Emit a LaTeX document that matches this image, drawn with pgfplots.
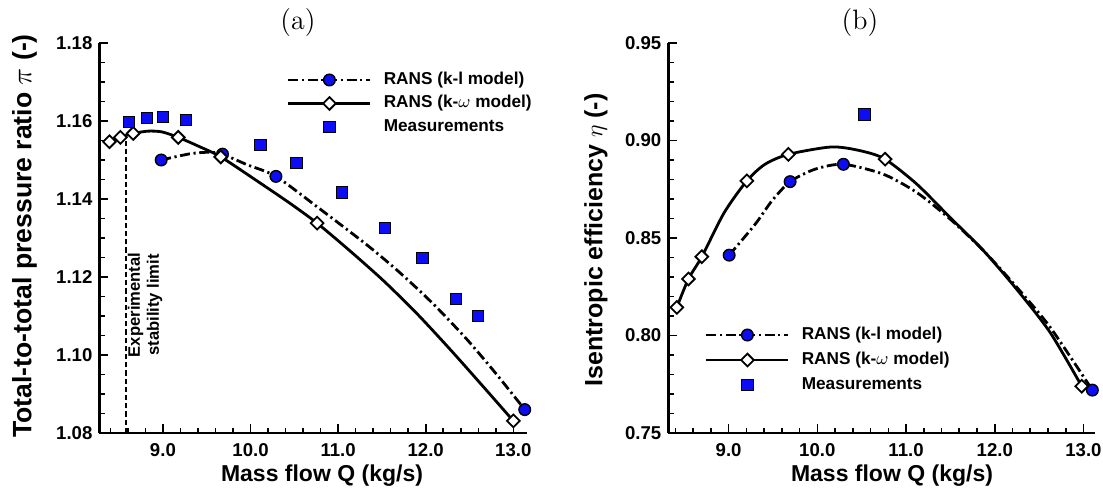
\documentclass[border=0pt]{standalone}
\usepackage{fontspec}
\newfontfamily\arialf{Liberation Sans}
\usepackage{pgfplots}
\pgfplotsset{compat=1.18}
\definecolor{mblue}{RGB}{12,12,245}

\pgfplotsset{
  myaxis/.style={
    scale only axis,
    axis x line=bottom, axis y line=left,
    axis line style={-, line width=1.2pt, black},
    tick align=inside,
    major tick length=4.5pt, minor tick length=2.7pt,
    tick style={line width=0.8pt, black},
    tick label style={font=\arialf\bfseries\fontsize{9.3}{11}\selectfont},
    /pgf/number format/assume math mode=true,
    xticklabel style={yshift=-1.5pt, /pgf/number format/fixed, /pgf/number format/fixed zerofill, /pgf/number format/precision=1},
    yticklabel style={/pgf/number format/fixed, /pgf/number format/fixed zerofill, /pgf/number format/precision=2},
    xtick={9,10,11,12,13},
    minor xtick={8.4,8.6,8.8,9.2,9.4,9.6,9.8,10.2,10.4,10.6,10.8,11.2,11.4,11.6,11.8,12.2,12.4,12.6,12.8},
    clip=false,
    legend image code/.code={\draw[mark repeat=2,mark phase=2,##1] plot coordinates {(0pt,0pt)(20.5pt,0pt)(41pt,0pt)};},
    legend style={draw=none, fill=none, inner sep=0pt, outer sep=0pt, column sep=6pt,
      font=\arialf\bfseries\fontsize{8.6}{10}\selectfont,
      nodes={inner sep=0pt, text height=6pt, text depth=1.5pt}},
    legend cell align=left,
  },
  klline/.style={black, line width=1.4pt, dash pattern=on 5pt off 1.8pt on 1.1pt off 1.8pt, smooth, tension=0.45},
  kwline/.style={black, line width=1.4pt, solid, smooth, tension=0.45},
  circ/.style={mark=*, mark size=2.9pt, mark options={solid, fill=mblue, draw=black, line width=0.7pt}},
  diam/.style={mark=square*, mark size=2.25pt, mark options={solid, fill=white, draw=black, line width=0.9pt, rotate=45}},
  sqm/.style={mark=square*, mark size=2.8pt, mark options={solid, fill=mblue, draw=black, line width=0.45pt}},
}

\begin{document}
\begin{tikzpicture}
\useasboundingbox (0,0) rectangle (551.5pt,246.5pt);

% ---------------- (a) ----------------
\begin{axis}[myaxis, at={(49.75pt,30pt)}, anchor=south west,
  width=213.75pt, height=195pt,
  xmin=8.276, xmax=13.156, ymin=1.08, ymax=1.18,
  ytick={1.08,1.10,1.12,1.14,1.16,1.18},
  minor ytick={1.085,1.09,1.095,1.105,1.11,1.115,1.125,1.13,1.135,1.145,1.15,1.155,1.165,1.17,1.175},
  legend style={at={(rel axis cs:0.4386,0.9244)}, anchor=north west, row sep=4.25pt},
]
% stability limit
\addplot[forget plot, black, line width=1.1pt, dash pattern=on 2.6pt off 1.5pt] coordinates {(8.58,1.08) (8.58,1.1555)};
% k-l curve
\addplot[forget plot, klline] coordinates {
(8.98,1.1500) (9.31,1.1516) (9.54,1.1520) (9.68,1.1515) (9.96,1.1488) (10.29,1.1458)
(10.76,1.1380) (11.33,1.1282) (11.71,1.1210) (12.09,1.1130) (12.47,1.1040) (12.81,1.0950) (13.13,1.0860)};
% k-omega curve
\addplot[forget plot, kwline] coordinates {
(8.39,1.1547) (8.515,1.1558) (8.66,1.1568) (8.83,1.1574) (8.99,1.1572) (9.175,1.1558)
(9.40,1.1536) (9.66,1.1508) (10.07,1.1447) (10.45,1.1389) (10.76,1.1338) (11.14,1.1266)
(11.52,1.1190) (11.90,1.1106) (12.28,1.1014) (12.66,1.0918) (13.00,1.0831)};
% markers
\addplot[forget plot, only marks, circ] coordinates {(8.98,1.1500) (9.68,1.1515) (10.29,1.1458) (13.13,1.0860)};
\addplot[forget plot, only marks, diam] coordinates {(8.39,1.1547) (8.515,1.1558) (8.66,1.1568) (9.175,1.1558) (9.66,1.1508) (10.76,1.1338) (13.00,1.0831)};
\addplot[forget plot, only marks, sqm] coordinates {
(8.614,1.1598) (8.821,1.1607) (9.00,1.1611) (9.267,1.1603) (10.114,1.1539) (10.524,1.1493)
(11.04,1.1417) (11.537,1.1325) (11.963,1.1248) (12.345,1.1143) (12.597,1.1100)};
\addlegendimage{black, line width=1.4pt, dash pattern=on 5pt off 1.8pt on 1.1pt off 1.8pt, circ}
\addlegendentry{RANS (k-l model)}
\addlegendimage{black, line width=1.4pt, solid, diam}
\addlegendentry{RANS (k-$\omega$ model)}
\addlegendimage{only marks, sqm}
\addlegendentry{Measurements}
\end{axis}

% ---------------- (b) ----------------
\begin{axis}[myaxis, at={(334.15pt,30pt)}, anchor=south west,
  width=213.35pt, height=195pt,
  xmin=8.32, xmax=13.13, ymin=0.75, ymax=0.95,
  ytick={0.75,0.80,0.85,0.90,0.95},
  minor ytick={0.76,0.77,0.78,0.79,0.81,0.82,0.83,0.84,0.86,0.87,0.88,0.89,0.91,0.92,0.93,0.94},
  legend style={at={(rel axis cs:0.086,0.2705)}, anchor=north west, row sep=5pt},
]
\addplot[forget plot, klline] coordinates {
(9.006,0.8412) (9.30,0.8571) (9.487,0.8690) (9.693,0.8789) (9.975,0.8853) (10.294,0.8878)
(10.745,0.8827) (11.122,0.8733) (11.497,0.8597) (11.873,0.8435) (12.249,0.8247) (12.625,0.8042) (13.10,0.7720)};
\addplot[forget plot, kwline] coordinates {
(8.416,0.8144) (8.547,0.8290) (8.698,0.8404) (8.95,0.8630) (9.205,0.8793)
(9.41,0.8878) (9.674,0.8929) (10.163,0.8967) (10.50,0.8946) (10.764,0.8904) (11.122,0.8776)
(11.497,0.8605) (11.873,0.8435) (12.249,0.8236) (12.625,0.8015) (12.98,0.7740)};
\addplot[forget plot, only marks, circ] coordinates {(9.006,0.8412) (9.693,0.8789) (10.294,0.8878) (13.10,0.7720)};
\addplot[forget plot, only marks, diam] coordinates {(8.416,0.8144) (8.547,0.8290) (8.698,0.8404) (9.205,0.8793) (9.674,0.8929) (10.764,0.8904) (12.98,0.7740)};
\addplot[forget plot, only marks, sqm] coordinates {(10.53,0.9134)};
\addlegendimage{black, line width=1.4pt, dash pattern=on 5pt off 1.8pt on 1.1pt off 1.8pt, circ}
\addlegendentry{RANS (k-l model)}
\addlegendimage{black, line width=1.4pt, solid, diam}
\addlegendentry{RANS (k-$\omega$ model)}
\addlegendimage{only marks, sqm}
\addlegendentry{Measurements}
\end{axis}

% titles and labels
\node[font=\fontsize{14}{16}\selectfont] at (149pt,235pt) {(a)};
\node[font=\fontsize{14}{16}\selectfont] at (430pt,235pt) {(b)};
\node[font=\arialf\bfseries\fontsize{11.5}{13}\selectfont] at (161pt,8.5pt) {Mass flow Q (kg/s)};
\node[font=\arialf\bfseries\fontsize{11.5}{13}\selectfont] at (446pt,8.5pt) {Mass flow Q (kg/s)};
\node[rotate=90, font=\arialf\bfseries\fontsize{13.3}{15}\selectfont] at (12.25pt,128.5pt) {Total-to-total pressure ratio $\pi$ (-)};
\node[rotate=90, font=\arialf\bfseries\fontsize{12.5}{14}\selectfont] at (298pt,126.5pt) {Isentropic efficiency $\eta$ (-)};
\node[rotate=90, align=center, font=\arialf\bfseries\fontsize{8.3}{9.5}\selectfont] at (72.5pt,94pt) {Experimental\\stability limit};
\end{tikzpicture}
\end{document}
